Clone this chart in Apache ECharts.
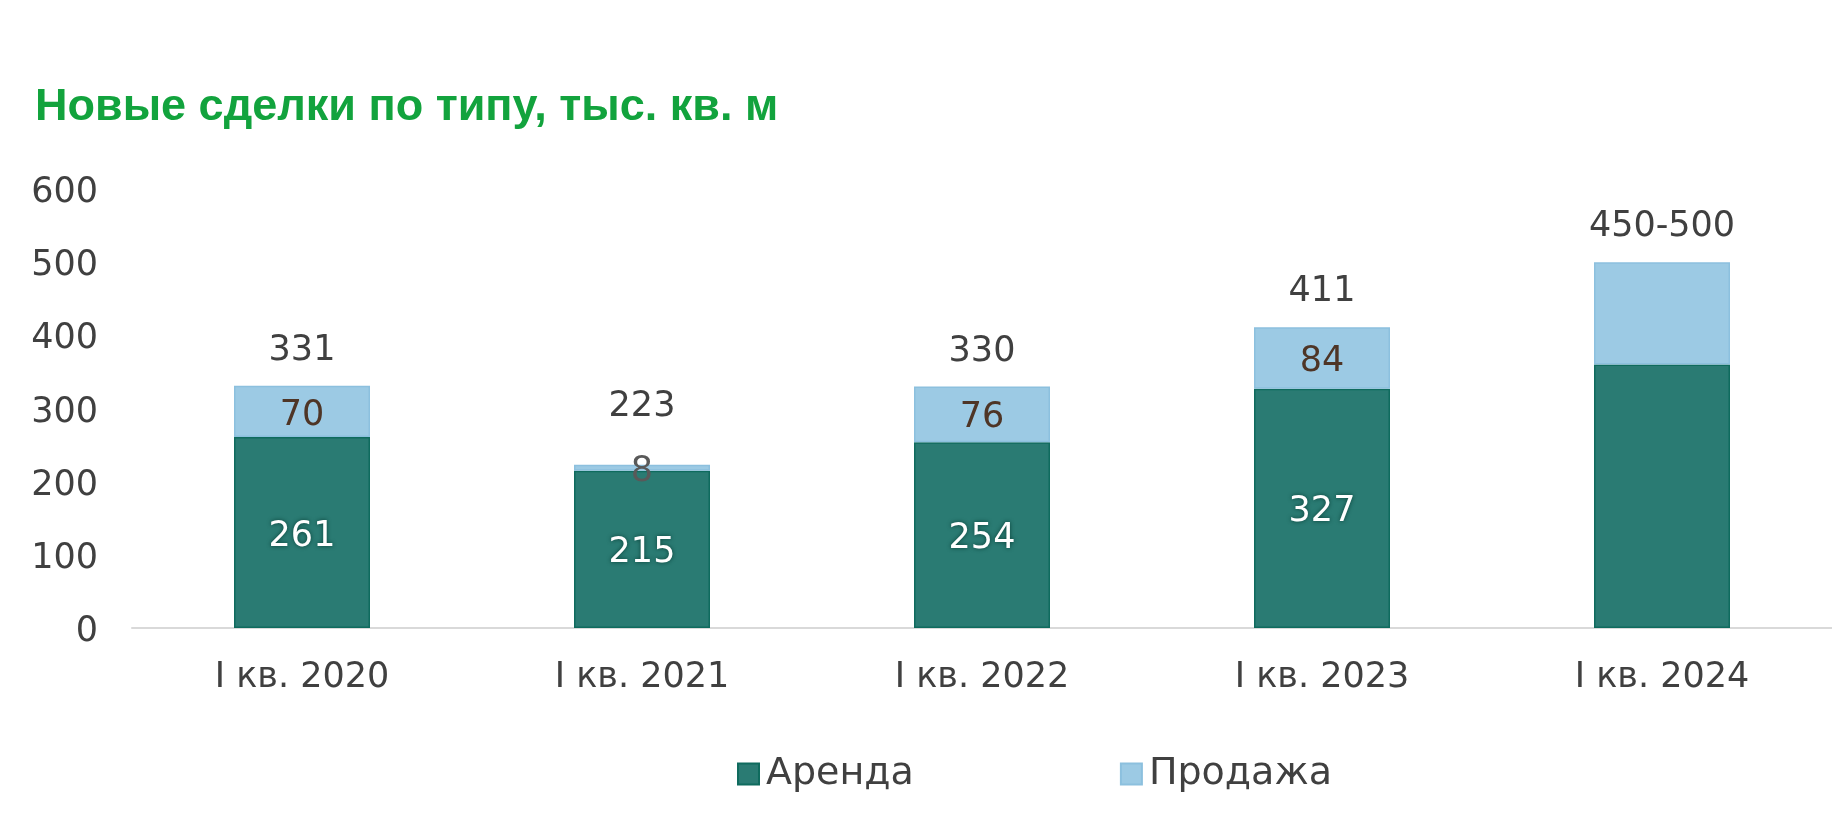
<!DOCTYPE html>
<html>
<head>
<meta charset="utf-8">
<script src="https://cdn.jsdelivr.net/npm/echarts@6/dist/echarts.min.js"></script>
<style>
html,body{margin:0;padding:0;background:#fff;}
#chart{width:1832px;height:839px;}
</style>
</head>
<body>
<div id="chart"></div>
<script>
const categories = ['I кв. 2020', 'I кв. 2021', 'I кв. 2022', 'I кв. 2023', 'I кв. 2024'];
const rent = [261, 215, 254, 327, 360];
const sale = [70, 8, 76, 84, 140];
const totals = [331, 223, 330, 411, 500];
const totalLabels = ['331', '223', '330', '411', '450-500'];
const rentLabels = ['261', '215', '254', '327', ''];
const saleLabels = ['70', '8', '76', '84', ''];
const yTicks = [0, 100, 200, 300, 400, 500, 600];

const FONT = '"DejaVu Sans", Verdana, sans-serif';
const chart = echarts.init(document.getElementById('chart'));

const totalData = totals.map((v, i) => ({
  value: v,
  label: { distance: i === 1 ? 40 : 17 }
}));
const saleData = sale.map((v, i) => ({
  value: v,
  label: { color: v < 20 ? '#595959' : '#4e3526' }
}));

chart.setOption({
  animation: false,
  backgroundColor: '#ffffff',
  title: {
    text: 'Новые сделки по типу, тыс. кв. м',
    left: 30,
    top: 80,
    textStyle: {
      color: '#12a33d',
      fontSize: 45,
      fontWeight: 'bold',
      fontFamily: '"Liberation Sans", Arial, sans-serif'
    }
  },
  legend: {
    left: 732,
    top: 750,
    itemWidth: 21,
    itemHeight: 21,
    itemGap: 206,
    icon: 'rect',
    textStyle: { color: '#404040', fontSize: 38, fontFamily: FONT, padding: [0, 0, 0, 2] },
    data: ['Аренда', 'Продажа']
  },
  grid: { left: 132, right: 0, top: 189, bottom: 839 - 628, containLabel: false },
  xAxis: {
    type: 'category',
    data: categories,
    axisLine: { lineStyle: { color: '#d9d9d9', width: 2 } },
    axisTick: { show: false },
    axisLabel: { color: '#404040', fontSize: 35, fontFamily: FONT, margin: 32 }
  },
  yAxis: {
    type: 'value',
    min: yTicks[0],
    max: yTicks[yTicks.length - 1],
    interval: 100,
    axisLine: { show: false },
    axisTick: { show: false },
    splitLine: { show: false },
    axisLabel: {
      margin: 34,
      formatter: '{a|{value}}',
      rich: { a: { color: '#404040', fontSize: 35, fontFamily: FONT, padding: [8, 0, 0, 0] } }
    }
  },
  series: [
    {
      name: 'Аренда',
      type: 'bar',
      stack: 'total',
      barWidth: '40%',
      data: rent,
      itemStyle: { color: '#2a7b73', borderColor: '#0f6b5e', borderWidth: 1.5 },
      label: {
        show: true,
        position: 'inside',
        offset: [0, 4],
        color: '#ffffff',
        fontSize: 35,
        fontFamily: FONT,
        textShadowColor: '#0a3f37',
        textShadowBlur: 4,
        formatter: p => rentLabels[p.dataIndex]
      }
    },
    {
      name: 'Продажа',
      type: 'bar',
      stack: 'total',
      barWidth: '40%',
      data: saleData,
      itemStyle: { color: '#9ccae4', borderColor: '#8cc0de', borderWidth: 1.5 },
      label: {
        show: true,
        position: 'inside',
        offset: [0, 4],
        fontSize: 35,
        fontFamily: FONT,
        formatter: p => saleLabels[p.dataIndex]
      }
    },
    {
      name: 'total',
      type: 'scatter',
      data: totalData,
      symbol: 'circle',
      symbolSize: 1,
      itemStyle: { color: 'rgba(255,255,255,0)', opacity: 1 },
      silent: true,
      z: 5,
      label: {
        show: true,
        position: 'top',
        color: '#404040',
        fontSize: 35,
        fontFamily: FONT,
        formatter: p => totalLabels[p.dataIndex]
      }
    }
  ]
});
</script>
</body>
</html>
